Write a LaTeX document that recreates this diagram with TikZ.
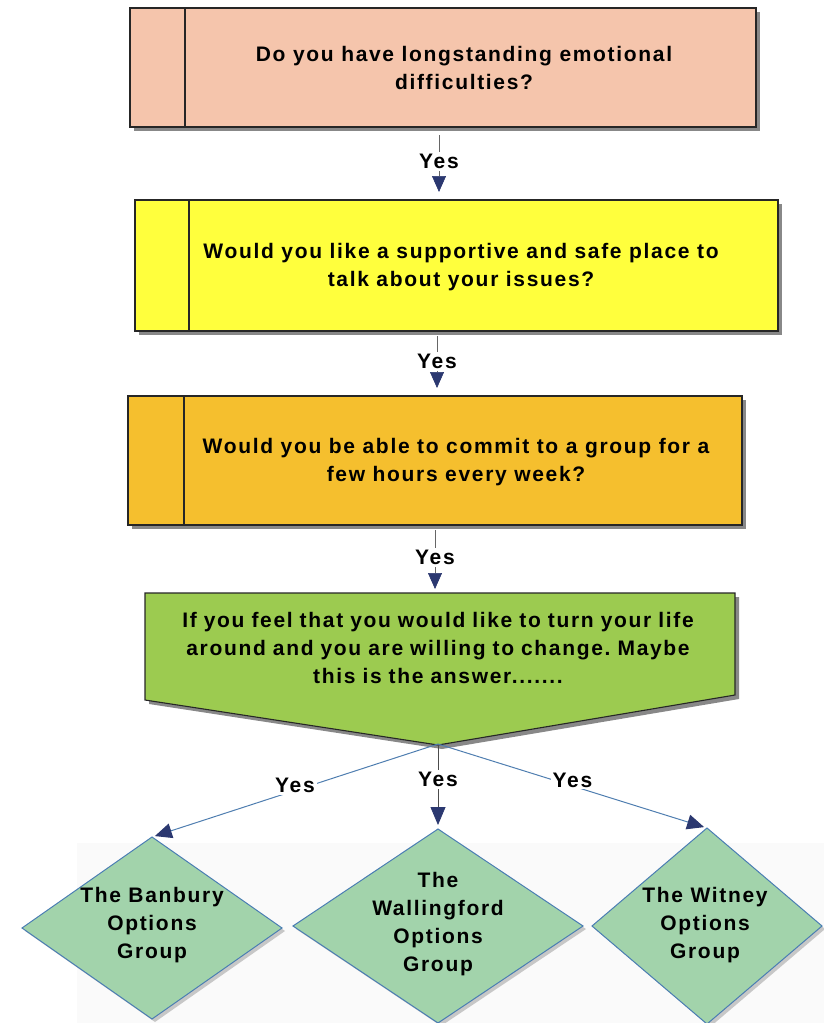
\documentclass[tikz,border=0pt]{standalone}
\usepackage{fontspec}
\newfontfamily\dfont{Liberation Sans}[LetterSpace=8]
\usetikzlibrary{arrows.meta,shadows,shapes.geometric}
\definecolor{peach}{HTML}{F5C5AC}
\definecolor{qyellow}{HTML}{FFFF3D}
\definecolor{qorange}{HTML}{F5BF2E}
\definecolor{qgreen}{HTML}{9CCB50}
\definecolor{dfill}{HTML}{A2D3AB}
\definecolor{dborder}{HTML}{4A7DB3}
\definecolor{navy}{HTML}{2B3870}
\definecolor{bline}{HTML}{4F7EB0}
\frenchspacing
\begin{document}
\begin{tikzpicture}[x=1pt,y=-1pt,
  qbox/.style={draw=black!85, line width=1.1pt, inner sep=0pt, outer sep=0pt,
    drop shadow={shadow xshift=4pt, shadow yshift=-4pt, fill=black!55, opacity=0.85}},
  divider/.style={draw=black!85, line width=1.1pt},
  txt/.style={font=\dfont\bfseries\fontsize{21}{28}\selectfont, align=center, text=black, inner sep=0pt},
  yes/.style={txt, fill=white, inner sep=2pt},
  vconn/.style={draw=black!60, line width=0.6pt, -{Triangle[width=14pt,length=16pt,color=navy]}},
  bconn/.style={draw=bline, line width=1pt, -{Triangle[width=15pt,length=17pt,color=navy]}},
  gdiam/.style={diamond, draw=dborder, line width=1pt, fill=dfill, inner sep=0pt, outer sep=0pt,
    drop shadow={shadow xshift=3pt, shadow yshift=-3pt, fill=black!35, opacity=0.6}}
]
\useasboundingbox (0,0) rectangle (824,1023);
\fill[black!2] (77,843) rectangle (824,1023);

% box 1
\node[qbox, fill=peach, minimum width=626pt, minimum height=119pt] (b1) at (443,67.5) {};
\draw[divider] ([xshift=55pt]b1.north west) -- ([xshift=55pt]b1.south west);
\node[txt] (t1) at (464,68) {Do you have longstanding emotional\\difficulties?};

% box 2
\node[qbox, fill=qyellow, minimum width=643pt, minimum height=131pt] (b2) at (456.5,265.5) {};
\draw[divider] ([xshift=54pt]b2.north west) -- ([xshift=54pt]b2.south west);
\node[txt] (t2) at (461,267) {Would you like a supportive and safe place to\\talk about your issues?};

% box 3
\node[qbox, fill=qorange, minimum width=614pt, minimum height=129pt] (b3) at (435,460.5) {};
\draw[divider] ([xshift=56pt]b3.north west) -- ([xshift=56pt]b3.south west);
\node[txt] (t3) at (456,462) {Would you be able to commit to a group for a\\few hours every week?};

% box 4
\draw[draw=black!85, line width=1.1pt, fill=qgreen,
  drop shadow={shadow xshift=4pt, shadow yshift=-4pt, fill=black!55, opacity=0.85}]
  (145,593) -- (735,593) -- (735,695) -- (438,745) -- (145,700) -- cycle;
\coordinate (b4top) at (435,593);
\coordinate (b4tip) at (438,744);
\node[txt, text width=580pt] (t4) at (438,648) {If you feel that you would like to turn your life\\around and you are willing to change. Maybe\\this is the answer.......};

% connectors between boxes
\coordinate (c1) at (439,0);
\coordinate (c2) at (437,0);
\coordinate (c3) at (435,0);
\draw[vconn, shorten <=8pt, shorten >=8pt] (c1 |- b1.south) -- node[yes, pos=0.47] (y1) {Yes} (c1 |- b2.north);
\draw[vconn, shorten <=5pt, shorten >=8pt] (c2 |- b2.south) -- node[yes, pos=0.47] (y2) {Yes} (c2 |- b3.north);
\draw[vconn, shorten <=5pt, shorten >=4pt] (c3 |- b3.south) -- node[yes, pos=0.48] (y3) {Yes} (b4top);

% diamonds
\node[gdiam, minimum width=260pt, minimum height=182pt] (d1) at (152,928) {};
\node[txt] (dt1) at (152,925) {The Banbury\\Options\\Group};
\node[gdiam, minimum width=290pt, minimum height=194pt] (d2) at (438,926) {};
\node[txt] (dt2) at (438,924.5) {The\\Wallingford\\Options\\Group};
\node[gdiam, minimum width=230pt, minimum height=196pt] (d3) at (707,926) {};
\node[txt] (dt3) at (705,925) {The Witney\\Options\\Group};

% branch connectors
\draw[bconn, shorten >=3pt] (b4tip) -- node[yes, pos=0.5, yshift=5pt] (y4) {Yes} (d1.north);
\draw[vconn, draw=black!70, line width=0.8pt, -{Triangle[width=15pt,length=18pt,color=navy]}, shorten >=4pt] (b4tip) -- node[yes, pos=0.42] (y5) {Yes} (d2.north);
\draw[bconn, shorten >=3pt] (b4tip) -- node[yes, pos=0.5, yshift=6pt] (y6) {Yes} (d3.north);
\end{tikzpicture}
\end{document}
